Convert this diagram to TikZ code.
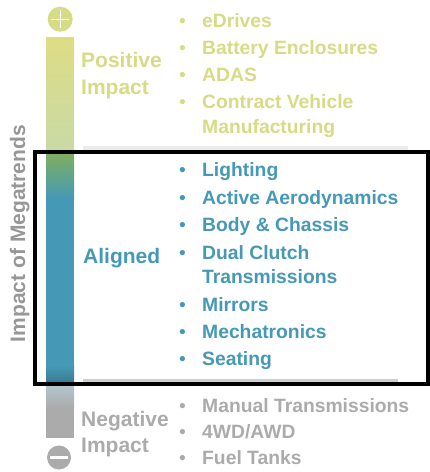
\documentclass[tikz,border=0pt]{standalone}
\usepackage{fontspec}
\setmainfont{Liberation Sans}
\definecolor{posc}{HTML}{D7DB85}
\definecolor{alic}{HTML}{4599B6}
\definecolor{negc}{HTML}{ABABAB}
\definecolor{axisc}{HTML}{979797}
\definecolor{bartop}{HTML}{DDDD84}
\definecolor{barpale}{HTML}{C9D9A6}
\definecolor{bargreen}{HTML}{82B05C}
\definecolor{bardark}{HTML}{3A7890}
\definecolor{barlight}{HTML}{B6C9D1}
\tikzset{
  item/.style={anchor=base west, inner sep=0pt, font=\fontsize{19.3}{24}\selectfont\bfseries},
  bul/.style={anchor=base, inner sep=0pt, font=\fontsize{19.3}{24}\selectfont},
  lab/.style={anchor=base west, inner sep=0pt, font=\fontsize{21}{25}\selectfont\bfseries}
}
\begin{document}
\begin{tikzpicture}[x=1pt,y=-1pt]
\useasboundingbox (0,0) rectangle (430,472);
% grey bands
\fill[black!8] (83,145.7) rectangle (408,150.5);
\fill[black!19] (83,379) rectangle (398,382);
% gradient bar
\shade[top color=bartop, bottom color=barpale] (46,37.7) rectangle (74,151);
\shade[top color=bargreen, bottom color=alic] (46,151) rectangle (74,199);
\fill[alic] (46,198.5) rectangle (74,366);
\shade[top color=alic, bottom color=bardark] (46,365.5) rectangle (74,384);
\shade[top color=barlight, bottom color=negc] (46,383.5) rectangle (74,408);
\fill[negc] (46,407.5) rectangle (74,438);
% plus / minus circles
\node[circle, fill=posc, minimum size=25pt, inner sep=0pt] (plus) at (60.2,19.2) {};
\draw[white, line width=1pt] ([xshift=-9pt]plus.center) -- ([xshift=9pt]plus.center);
\draw[white, line width=1pt] ([yshift=-9pt]plus.center) -- ([yshift=9pt]plus.center);
\node[circle, fill=negc, minimum size=24pt, inner sep=0pt] (minus) at (59,457.5) {};
\draw[white, line width=2.8pt] ([xshift=-9pt]minus.center) -- ([xshift=9pt]minus.center);
% axis label
\node[rotate=90, anchor=base, inner sep=0pt, text=axisc, font=\fontsize{21}{25}\selectfont\bfseries] (axis) at (25,233.5) {Impact of Megatrends};
% left labels
\node[lab, text=posc] (pos1) at (81,67.5) {Positive};
\node[lab, text=posc] (pos2) at (81,94) {Impact};
\node[lab, text=alic] (ali) at (83,263) {Aligned};
\node[lab, text=negc] (neg1) at (81,426) {Negative};
\node[lab, text=negc] (neg2) at (81,452) {Impact};
% positive items
\node[bul, text=posc] (bp1) at (182.5,27) {•};
\node[item, text=posc] (p1) at (202,27) {eDrives};
\node[bul, text=posc] (bp2) at (182.5,54) {•};
\node[item, text=posc] (p2) at (202,54) {Battery Enclosures};
\node[bul, text=posc] (bp3) at (182.5,81) {•};
\node[item, text=posc] (p3) at (202,81) {ADAS};
\node[bul, text=posc] (bp4) at (182.5,108) {•};
\node[item, text=posc] (p4) at (202,108) {Contract Vehicle};
\node[item, text=posc] (p4b) at (202,133) {Manufacturing};
% aligned items
\node[bul, text=alic] (ba1) at (182.5,176.5) {•};
\node[item, text=alic] (a1) at (202,176.5) {Lighting};
\node[bul, text=alic] (ba2) at (182.5,204) {•};
\node[item, text=alic] (a2) at (202,204) {Active Aerodynamics};
\node[bul, text=alic] (ba3) at (182.5,231) {•};
\node[item, text=alic] (a3) at (202,231) {Body \& Chassis};
\node[bul, text=alic] (ba4) at (182.5,259) {•};
\node[item, text=alic] (a4) at (202,259) {Dual Clutch};
\node[item, text=alic] (a4b) at (202,283) {Transmissions};
\node[bul, text=alic] (ba5) at (182.5,311) {•};
\node[item, text=alic] (a5) at (202,311) {Mirrors};
\node[bul, text=alic] (ba6) at (182.5,338) {•};
\node[item, text=alic] (a6) at (202,338) {Mechatronics};
\node[bul, text=alic] (ba7) at (182.5,365) {•};
\node[item, text=alic] (a7) at (202,365) {Seating};
% negative items
\node[bul, text=negc] (bn1) at (182.5,412) {•};
\node[item, text=negc] (n1) at (202,412) {Manual Transmissions};
\node[bul, text=negc] (bn2) at (182.5,438.5) {•};
\node[item, text=negc] (n2) at (202,438.5) {4WD/AWD};
\node[bul, text=negc] (bn3) at (182.5,464.5) {•};
\node[item, text=negc] (n3) at (202,464.5) {Fuel Tanks};
% black frame
\draw[black, line width=4pt] (35.3,152.2) rectangle (428,383.8);
\end{tikzpicture}
\end{document}
